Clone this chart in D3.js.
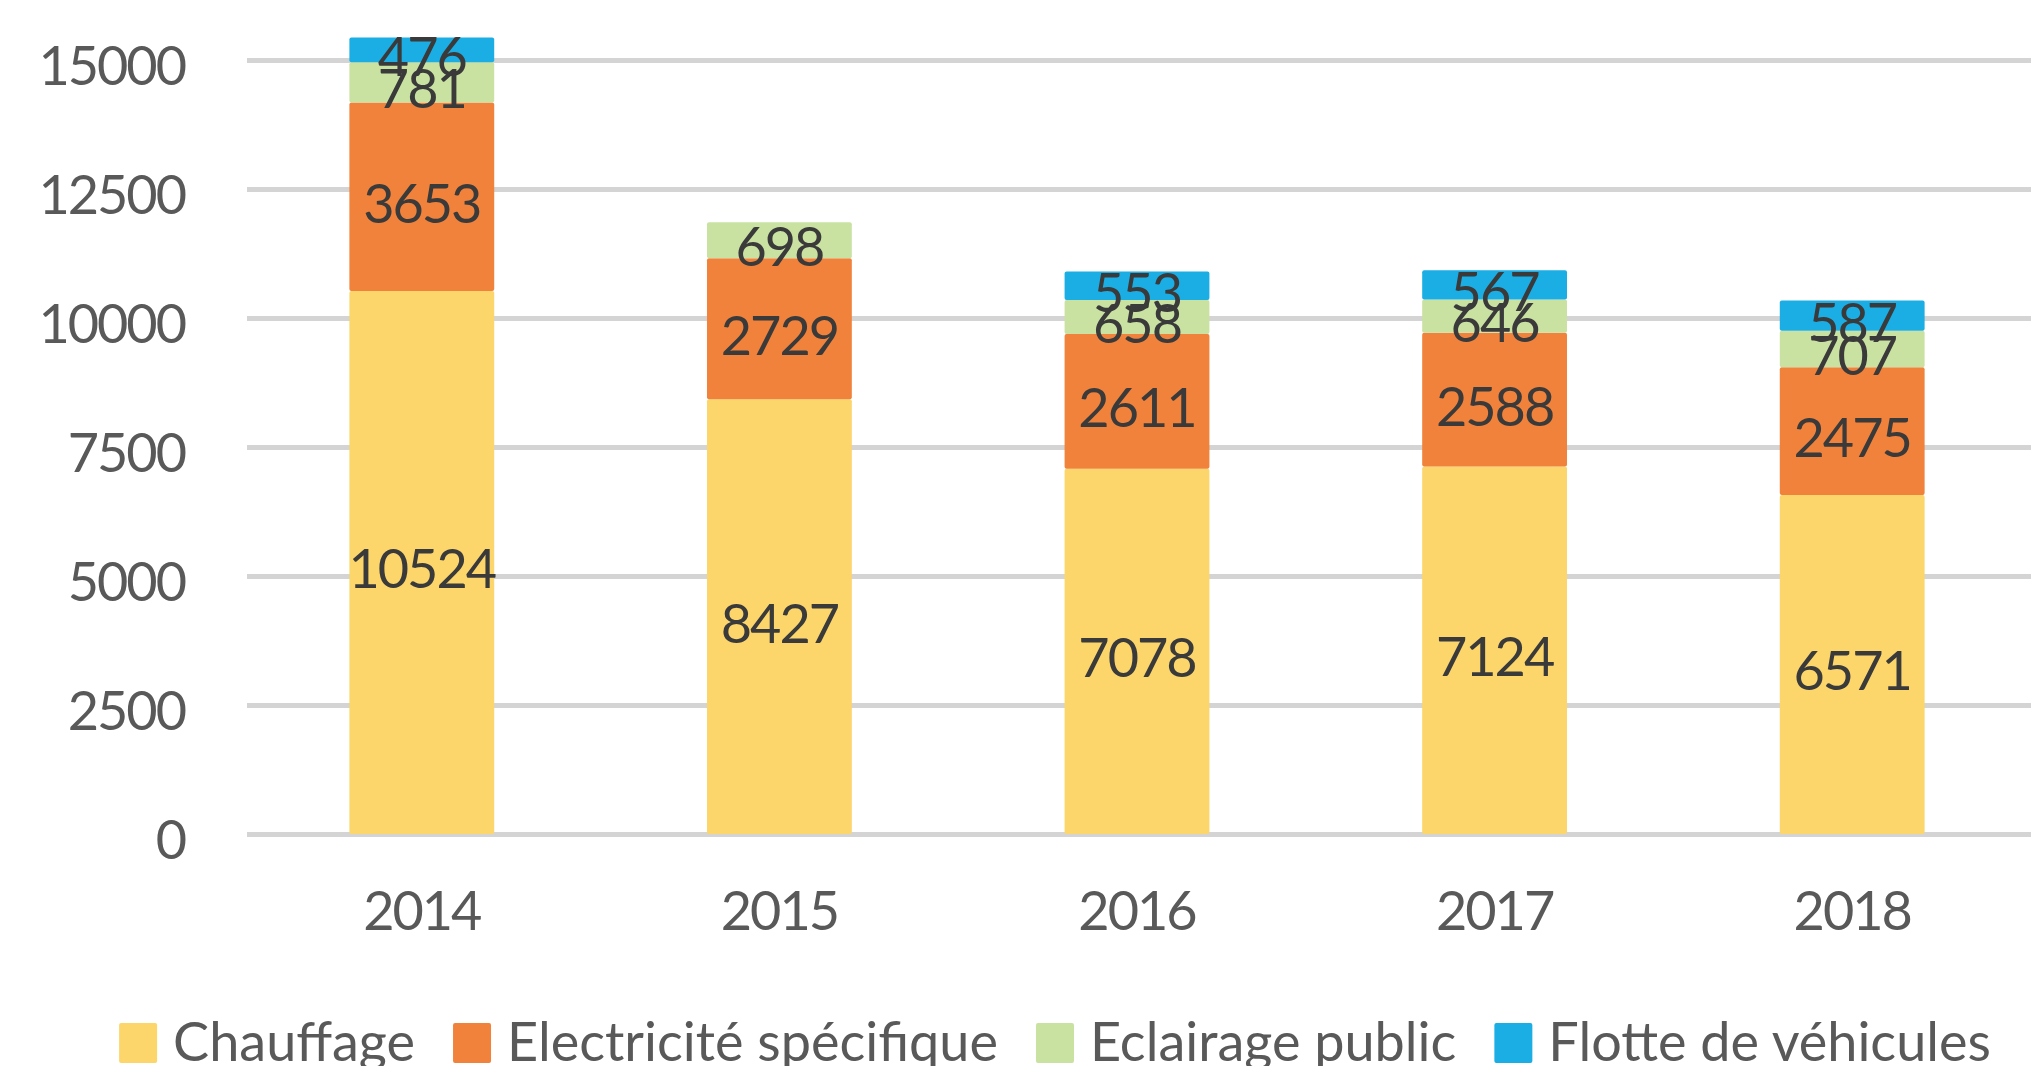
<!doctype HTML>
<html lang="fr">
<head>
<title>Consommation par poste 2014-2018</title>
<script src="https://d3js.org/d3.v7.min.js"></script>
<style type="text/css">
  body { margin: 0; background: #fff; }
  text { font-family: Lato, "Open Sans", sans-serif; }
  .axis path { display: none; }
  .axis line { stroke: #d4d4d4; stroke-width: 5; shape-rendering: crispEdges; }
  .axis text { font-size: 54px; fill: #595959; letter-spacing: -2px; }
  .label { font-size: 54px; fill: #3a3a3a; letter-spacing: -2px; text-anchor: middle; }
  .legend text { font-size: 54px; fill: #595959; letter-spacing: 0px; }
</style>
</head>
<body>
<script type="text/javascript">

// data
var years = ["2014", "2015", "2016", "2017", "2018"];
var seriesNames = ["Chauffage", "Electricité spécifique", "Eclairage public", "Flotte de véhicules"];
var chauffage    = [10524, 8427, 7078, 7124, 6571];
var electricite  = [3653, 2729, 2611, 2588, 2475];
var eclairage    = [781, 698, 658, 646, 707];
var flotte       = [476, 0, 553, 567, 587];   // no value for 2015
var yTicks = [0, 2500, 5000, 7500, 10000, 12500, 15000];

var colours = ["#fcd66a", "#f1823b", "#c9e2a2", "#1baee4"];

var W = 2031, H = 1066;

var rows = years.map(function(y, i) {
	var r = { year: y };
	r[seriesNames[0]] = chauffage[i];
	r[seriesNames[1]] = electricite[i];
	r[seriesNames[2]] = eclairage[i];
	r[seriesNames[3]] = flotte[i];
	return r;
});

var svg = d3.select("body").append("svg")
	.attr("width", W)
	.attr("height", H);

var x = d3.scaleBand().domain(years).range([243, 2031]).paddingInner(0.595).paddingOuter(0.2975);
var y = d3.scaleLinear().domain([0, 15000]).range([834, 60]);

// gridlines + y labels
var yAxis = svg.append("g")
	.attr("class", "axis")
	.attr("transform", "translate(247,0)")
	.call(d3.axisLeft(y).tickValues(yTicks).tickSize(-(W - 247)).tickPadding(62).tickFormat(d3.format("d")));
yAxis.selectAll("text").attr("dy", "0.45em");

// x labels
var xAxis = svg.append("g")
	.attr("class", "axis")
	.attr("transform", "translate(0,834)")
	.call(d3.axisBottom(x).tickSize(0));
xAxis.selectAll("text").attr("y", 96).attr("dy", 0);

var stack = d3.stack().keys(seriesNames)(rows);

var layers = svg.append("g").selectAll("g")
	.data(stack)
	.enter().append("g")
	.attr("fill", function(d, i) { return colours[i]; });

layers.selectAll("rect")
	.data(function(d) { return d.filter(function(s) { return s[1] - s[0] > 0; }); })
	.enter().append("rect")
	.attr("x", function(d) { return x(d.data.year); })
	.attr("y", function(d) { return y(d[1]); })
	.attr("width", x.bandwidth())
	.attr("height", function(d) { return y(d[0]) - y(d[1]); })
	.attr("rx", 2);

layers.selectAll("text")
	.data(function(d) { return d.filter(function(s) { return s[1] - s[0] > 0; }); })
	.enter().append("text")
	.attr("class", "label")
	.attr("x", function(d) { return x(d.data.year) + x.bandwidth() / 2; })
	.attr("y", function(d) { return (y(d[0]) + y(d[1])) / 2; })
	.attr("dy", "0.48em")
	.text(function(d) { return d[1] - d[0]; });

// legend
var legend = svg.append("g").attr("class", "legend");
var items = legend.selectAll("g")
	.data(seriesNames)
	.enter().append("g");

items.append("rect")
	.attr("y", 1023)
	.attr("width", 38)
	.attr("height", 40)
	.attr("rx", 2)
	.attr("fill", function(d, i) { return colours[i]; });

items.append("text")
	.attr("x", 54)
	.attr("y", 1061)
	.text(function(d) { return d; });

var offsets = [], pos = 0;
items.each(function() {
	offsets.push(pos);
	pos += 54 + d3.select(this).select("text").node().getComputedTextLength() + 38;
});
var start = 1055 - (pos - 38) / 2;
items.attr("transform", function(d, i) { return "translate(" + (start + offsets[i]) + ",0)"; });

</script>
</body>
</html>
